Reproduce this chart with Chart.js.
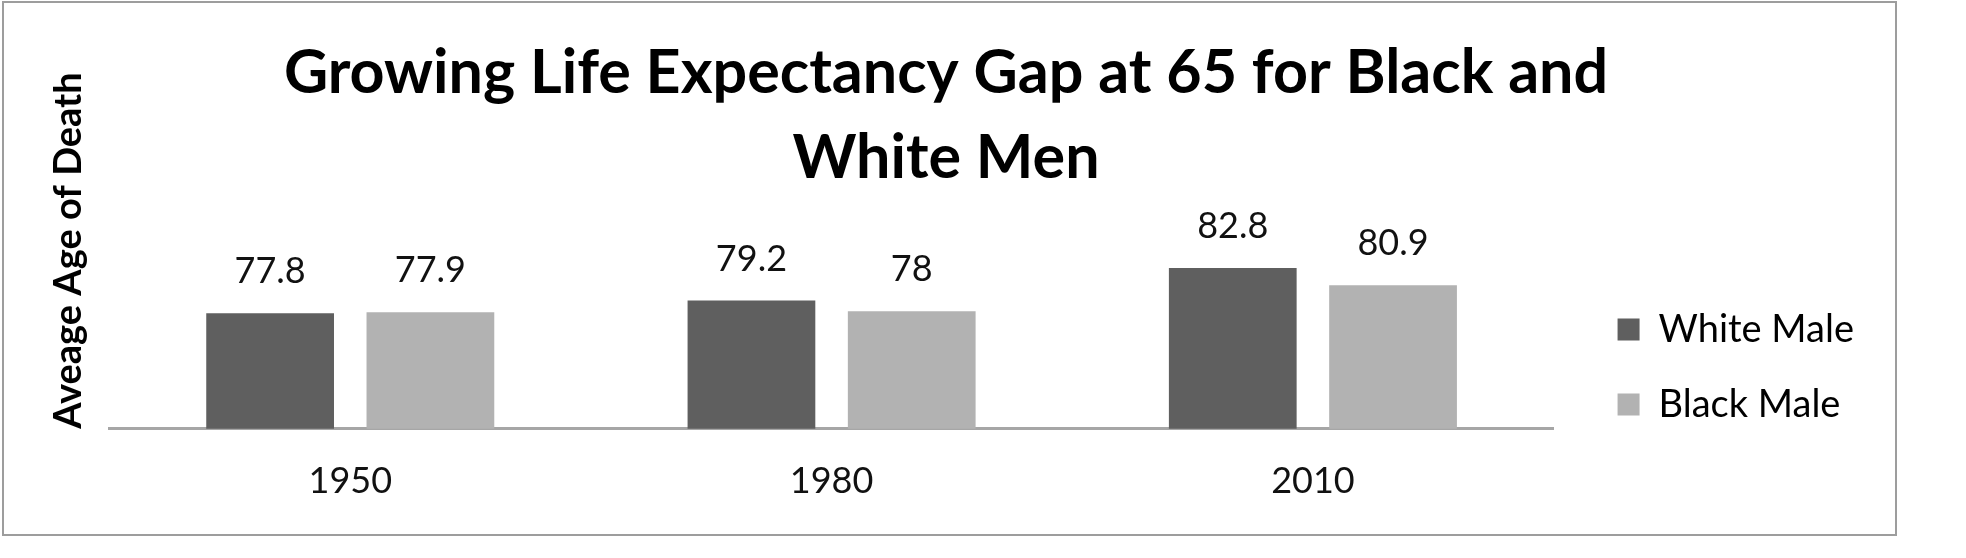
<!DOCTYPE html>
<html>
<head>
<meta charset="utf-8">
<title>Growing Life Expectancy Gap</title>
<script src="https://cdn.jsdelivr.net/npm/chart.js"></script>
<style>
  body { margin: 0; background: #fff; }
  #frame {
    position: absolute;
    left: 2px;
    top: 1px;
    width: 1891px;
    height: 531px;
    border: 2px solid #9d9d9d;
    background: #fff;
  }
</style>
</head>
<body>
<div id="frame"><canvas id="lifeChart"></canvas></div>
<script>
const years = ["1950", "1980", "2010"];
const whiteMale = [77.8, 79.2, 82.8];
const blackMale = [77.9, 78, 80.9];
const seriesNames = ["White Male", "Black Male"];
const titleLines = ["Growing Life Expectancy Gap at 65 for Black and", "White Men"];
const yAxisTitle = "Aveage Age of Death";

Chart.defaults.font.family = "Lato";
Chart.defaults.color = "#000";

// value labels above each bar
const barValueLabels = {
  id: "barValueLabels",
  afterDatasetsDraw(chart) {
    const ctx = chart.ctx;
    ctx.save();
    ctx.font = "36px Lato";
    ctx.fillStyle = "#111";
    ctx.textAlign = "center";
    ctx.textBaseline = "alphabetic";
    chart.data.datasets.forEach((ds, i) => {
      chart.getDatasetMeta(i).data.forEach((bar, j) => {
        ctx.fillText(String(ds.data[j]), bar.x, bar.y - 30);
      });
    });
    ctx.restore();
  }
};

let chart;

function createLifeChart() {
  const ctx = document.getElementById("lifeChart").getContext("2d");
  chart = new Chart(ctx, {
    type: "bar",
    data: {
      labels: years,
      datasets: [
        {
          label: seriesNames[0],
          data: whiteMale,
          backgroundColor: "#5f5f5f",
          borderWidth: 0,
          categoryPercentage: 0.666,
          barPercentage: 0.797,
        },
        {
          label: seriesNames[1],
          data: blackMale,
          backgroundColor: "#b2b2b2",
          borderWidth: 0,
          categoryPercentage: 0.666,
          barPercentage: 0.797,
        },
      ],
    },
    options: {
      responsive: true,
      maintainAspectRatio: false,
      animation: false,
      layout: { padding: { left: 24, right: 31, top: 0, bottom: 0 } },
      plugins: {
        title: {
          display: true,
          text: titleLines,
          color: "#000",
          font: { size: 61, weight: "bold", lineHeight: 1.393 },
          padding: { top: 28, bottom: 2 },
        },
        legend: {
          position: "right",
          align: "start",
          title: { display: true, text: "", font: { size: 12 }, padding: { top: 256, bottom: 0 } },
          labels: {
            boxWidth: 22,
            boxHeight: 22,
            padding: 37,
            color: "#000",
            font: { size: 38 },
          },
        },
        tooltip: { enabled: false },
      },
      scales: {
        x: {
          grid: { display: false, drawTicks: false },
          border: { display: true, color: "#a6a6a6", width: 3 },
          ticks: { color: "#111", font: { size: 36 }, padding: 31 },
        },
        y: {
          min: 65,
          max: 90,
          grid: { display: false, drawTicks: false },
          border: { display: false },
          ticks: { display: false },
          title: {
            display: true,
            text: yAxisTitle,
            align: "start",
            color: "#000",
            font: { size: 38, weight: "bold" },
            padding: { top: 18, bottom: 18 },
          },
        },
        gap: {
          type: "linear",
          position: "right",
          grid: { display: false, drawTicks: false },
          border: { display: false },
          ticks: { display: false },
          afterFit: (scale) => { scale.width = 27; },
        },
      },
    },
    plugins: [barValueLabels],
  });
}

window.onload = function() {
  createLifeChart();
};
</script>
</body>
</html>
